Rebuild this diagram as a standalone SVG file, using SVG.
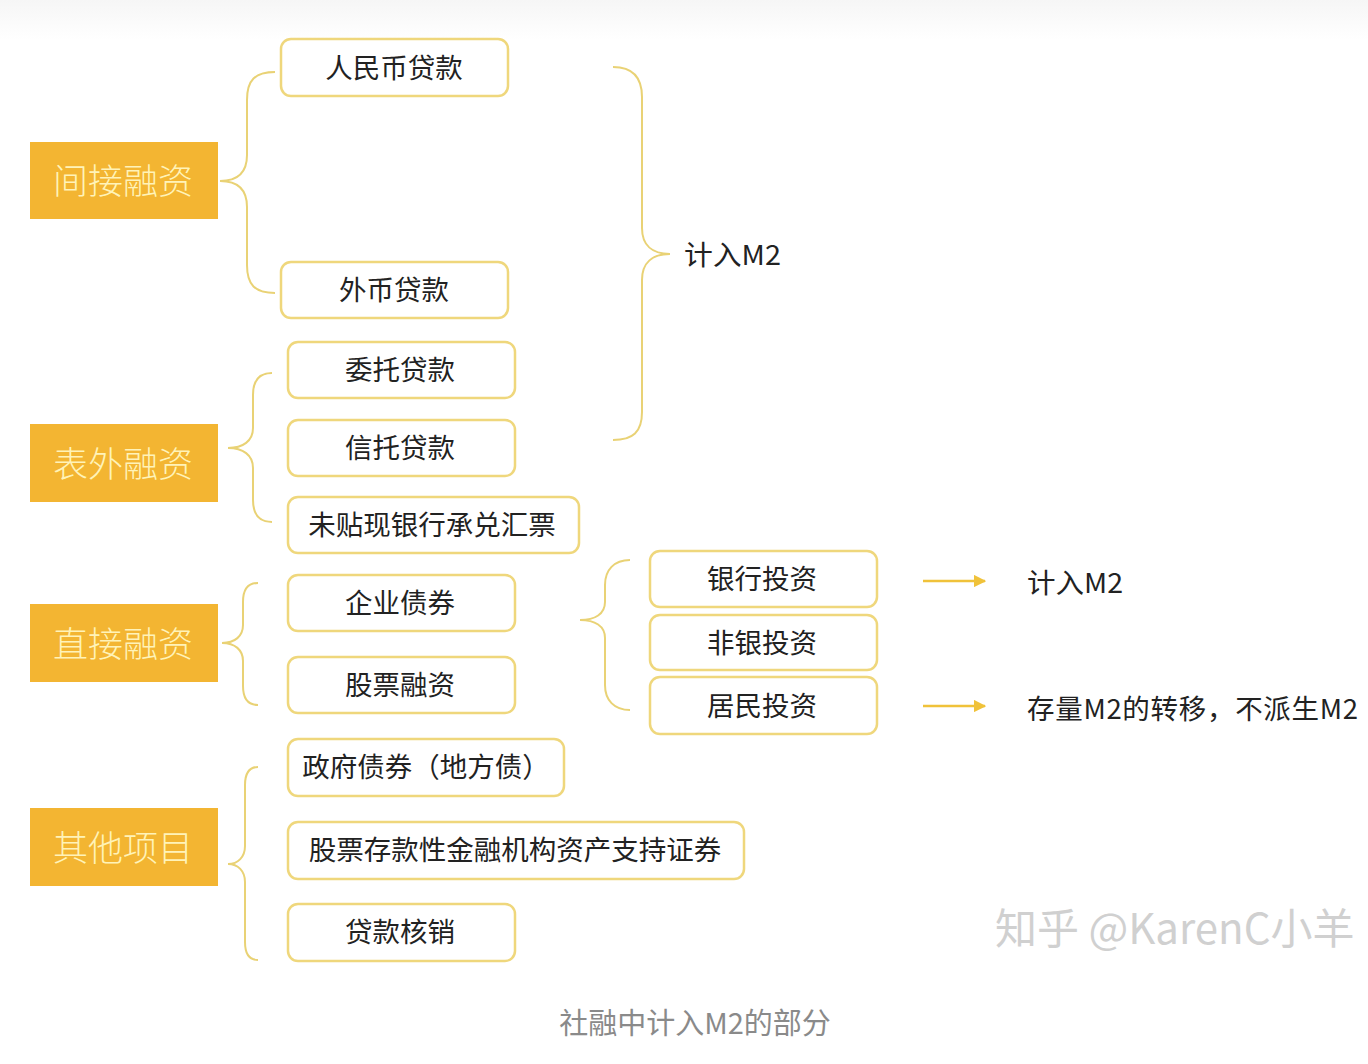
<svg xmlns="http://www.w3.org/2000/svg" width="1368" height="1064" viewBox="0 0 1368 1064">
<defs>
<linearGradient id="bg" x1="0" y1="0" x2="0" y2="1">
<stop offset="0" stop-color="#f6f6f6"/>
<stop offset="1" stop-color="#ffffff"/>
</linearGradient>
<marker id="ah" viewBox="0 0 10 10" refX="9" refY="5" markerWidth="5" markerHeight="5" orient="auto" markerUnits="strokeWidth">
<path d="M0,0 L10,5 L0,10 Z" fill="#F0C23A"/>
</marker>
<style>
.cat rect{fill:#F3B532;}
.cat text{font-family:"Noto Sans CJK SC","Noto Sans",sans-serif;font-size:35px;font-weight:300;fill:#FFF3B8;text-anchor:middle;dominant-baseline:central;}
.leaf rect{fill:#ffffff;stroke:#EFD77C;stroke-width:2.5;}
.leaf text,.lbl{font-family:"Noto Sans CJK SC","Noto Sans",sans-serif;font-size:27.5px;fill:#222222;dominant-baseline:central;}
.leaf text{text-anchor:middle;}
.brace{fill:none;stroke:#E9D275;stroke-width:2;}
.arrow{fill:none;stroke:#F0C23A;stroke-width:2.5;}
.cap{font-family:"Noto Sans CJK SC","Noto Sans",sans-serif;font-size:29px;fill:#8a8a8a;}
.wm{font-family:"Noto Sans CJK SC","Noto Sans",sans-serif;font-size:42px;fill:#d0d0d0;}
</style>
</defs>
<rect x="0" y="0" width="1368" height="40" fill="url(#bg)"/>
<rect x="0" y="40" width="1368" height="1024" fill="#ffffff"/>

<g id="connectors">
<path class="brace" d="M275,72 C255,72 247,80 247,100 L247,155 C247,172 238,181 220,181 C238,181 247,190 247,207 L247,265 C247,285 255,293 275,293"/>
<path class="brace" d="M613,67 C633,67 642,77 642,97 L642,228 C642,245 652,254 670,254 C652,254 642,263 642,280 L642,412 C642,432 633,440 613,440"/>
<path class="brace" d="M272,373 C260,373 253,380 253,395 L253,428 C253,441 243,448 228,448 C243,448 253,455 253,468 L253,500 C253,515 260,522 272,522"/>
<path class="brace" d="M258,583 C248,583 243,590 243,602 L243,625 C243,636 235,643 222,643 C235,643 243,650 243,661 L243,686 C243,698 248,705 258,705"/>
<path class="brace" d="M258,767 C249,767 245,774 245,785 L245,846 C245,857 238,864 228,864 C238,864 245,871 245,882 L245,942 C245,953 249,960 258,960"/>
<path class="brace" d="M630,560 C614,560 605,570 605,585 L605,602 C605,614 595,620 580,620 C595,620 605,626 605,638 L605,685 C605,700 614,710 630,710"/>
<line class="arrow" x1="923" y1="581" x2="985" y2="581" marker-end="url(#ah)"/>
<line class="arrow" x1="923" y1="706" x2="985" y2="706" marker-end="url(#ah)"/>
</g>

<g id="cat-indirect" class="cat"><rect x="30" y="142" width="188" height="77"/><text x="123" y="178">间接融资</text></g>
<g id="cat-offbalance" class="cat"><rect x="30" y="424" width="188" height="78"/><text x="123" y="461">表外融资</text></g>
<g id="cat-direct" class="cat"><rect x="30" y="604" width="188" height="78"/><text x="123" y="641">直接融资</text></g>
<g id="cat-other" class="cat"><rect x="30" y="808" width="188" height="78"/><text x="123" y="845">其他项目</text></g>

<g id="n-rmb" class="leaf"><rect x="281" y="39" width="227" height="57" rx="10"/><text x="394" y="66">人民币贷款</text></g>
<g id="n-fx" class="leaf"><rect x="281" y="262" width="227" height="56" rx="10"/><text x="394" y="288">外币贷款</text></g>
<g id="n-entrust" class="leaf"><rect x="288" y="342" width="227" height="56" rx="10"/><text x="400" y="368">委托贷款</text></g>
<g id="n-trust" class="leaf"><rect x="288" y="420" width="227" height="56" rx="10"/><text x="400" y="446">信托贷款</text></g>
<g id="n-bill" class="leaf"><rect x="288" y="497" width="291" height="56" rx="10"/><text x="432" y="523">未贴现银行承兑汇票</text></g>
<g id="n-bond" class="leaf"><rect x="288" y="575" width="227" height="56" rx="10"/><text x="400" y="601">企业债券</text></g>
<g id="n-equity" class="leaf"><rect x="288" y="657" width="227" height="56" rx="10"/><text x="400" y="683">股票融资</text></g>
<g id="n-gov" class="leaf"><rect x="288" y="739" width="276" height="57" rx="10"/><text x="426" y="765">政府债券（地方债）</text></g>
<g id="n-abs" class="leaf"><rect x="288" y="822" width="456" height="57" rx="10"/><text x="515" y="848">股票存款性金融机构资产支持证券</text></g>
<g id="n-writeoff" class="leaf"><rect x="288" y="904" width="227" height="57" rx="10"/><text x="400" y="930">贷款核销</text></g>
<g id="n-bank" class="leaf"><rect x="650" y="551" width="227" height="56" rx="10"/><text x="762" y="577">银行投资</text></g>
<g id="n-nonbank" class="leaf"><rect x="650" y="615" width="227" height="55" rx="10"/><text x="762" y="641">非银投资</text></g>
<g id="n-resident" class="leaf"><rect x="650" y="677" width="227" height="57" rx="10"/><text x="762" y="704">居民投资</text></g>

<g id="labels">
<text class="lbl" x="684" y="253" textLength="97" lengthAdjust="spacingAndGlyphs">计入M2</text>
<text class="lbl" x="1027" y="581" textLength="96" lengthAdjust="spacingAndGlyphs">计入M2</text>
<text class="lbl" x="1027" y="707" textLength="331" lengthAdjust="spacing">存量M2的转移，不派生M2</text>
</g>

<text class="wm" x="995" y="944">知乎 @KarenC小羊</text>
<text class="cap" x="695" y="1034" text-anchor="middle">社融中计入M2的部分</text>
</svg>
